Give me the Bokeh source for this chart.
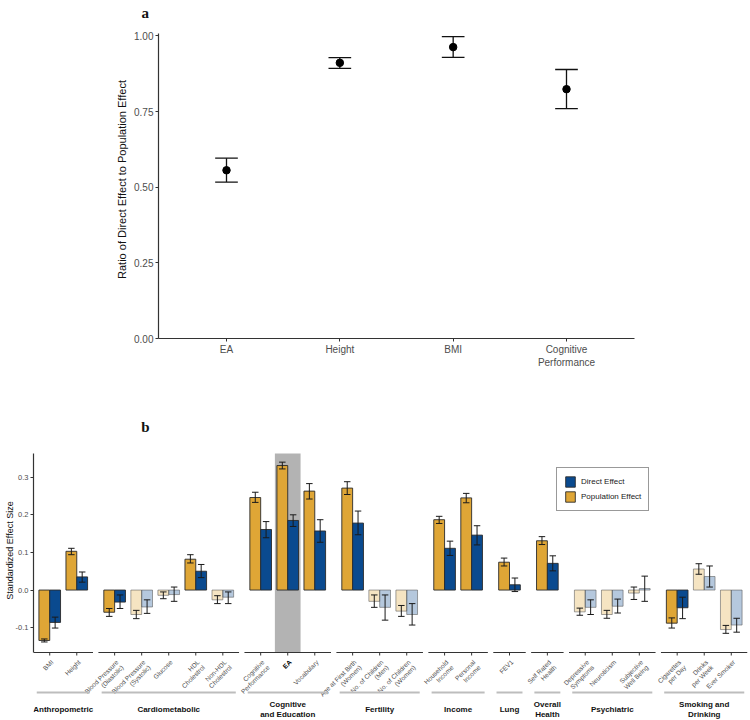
import math
import numpy as np
from bokeh.plotting import figure
from bokeh.models import (ColumnDataSource, FixedTicker, NumeralTickFormatter, Range1d,
                          Legend, LegendItem)
from bokeh.embed import file_html
from bokeh.resources import INLINE
from bokeh.core.properties import value

# ---------------- Panel a data ----------------
a_traits = ["EA", "Height", "BMI", "Cognitive\nPerformance"]
a_ratio = [0.556, 0.911, 0.963, 0.824]
a_lo = [0.517, 0.893, 0.929, 0.760]
a_hi = [0.596, 0.928, 0.998, 0.889]
a_yticks = [0.0, 0.25, 0.50, 0.75, 1.00]
a_ylim = (0, 1.008)

# ---------------- Panel b data ----------------
groups = ["Anthropometric", "Cardiometabolic", "Cognitive\nand Education", "Fertility",
          "Income", "Lung", "Overall\nHealth", "Psychiatric", "Smoking and\nDrinking"]
group_sizes = [2, 5, 3, 3, 2, 1, 1, 3, 3]
phenos = ["BMI", "Height",
          "Blood Pressure\n(Diastolic)", "Blood Pressure\n(Systolic)", "Glucose", "HDL\nCholestrol", "Non-HDL\nCholestrol",
          "Cognitive\nPerformance", "EA", "Vocabulary",
          "Age at First Birth\n(Women)", "No. of Children\n(Men)", "No. of Children\n(Women)",
          "Household\nIncome", "Personal\nIncome",
          "FEV1",
          "Self Rated\nHealth",
          "Depressive\nSymptoms", "Neuroticism", "Subjective\nWell Being",
          "Cigarettes\nper Day", "Drinks\nper Week", "Ever Smoker"]
pop_eff = [-0.134, 0.103, -0.059, -0.065, -0.014, 0.082, -0.026, 0.246, 0.331, 0.263,
           0.271, -0.030, -0.056, 0.187, 0.245, 0.074, 0.131, -0.058, -0.065, -0.008,
           -0.088, 0.056, -0.105]
pop_lo = [-0.138, 0.094, -0.070, -0.076, -0.023, 0.072, -0.036, 0.233, 0.322, 0.242,
          0.254, -0.046, -0.070, 0.177, 0.232, 0.064, 0.121, -0.067, -0.075, -0.025,
          -0.101, 0.042, -0.115]
pop_hi = [-0.130, 0.111, -0.049, -0.054, -0.005, 0.094, -0.015, 0.260, 0.340, 0.283,
          0.288, -0.013, -0.041, 0.196, 0.257, 0.085, 0.142, -0.048, -0.054, 0.008,
          -0.074, 0.070, -0.094]
dir_eff = [-0.086, 0.035, -0.032, -0.045, -0.012, 0.050, -0.019, 0.161, 0.185, 0.157,
           0.178, -0.046, -0.065, 0.111, 0.146, 0.014, 0.071, -0.046, -0.043, 0.004,
           -0.047, 0.036, -0.093]
dir_lo = [-0.101, 0.021, -0.049, -0.062, -0.030, 0.033, -0.036, 0.139, 0.169, 0.127,
          0.147, -0.080, -0.093, 0.092, 0.120, -0.004, 0.051, -0.065, -0.061, -0.030,
          -0.076, 0.008, -0.112]
dir_hi = [-0.072, 0.048, -0.013, -0.026, 0.008, 0.068, -0.005, 0.182, 0.200, 0.187,
          0.210, -0.013, -0.036, 0.130, 0.171, 0.032, 0.091, -0.026, -0.024, 0.037,
          -0.019, 0.064, -0.075]
significant = [1, 1, 1, 0, 0, 1, 0, 1, 1, 1, 1, 0, 0, 1, 1, 1, 1, 0, 0, 0, 1, 0, 0]
highlight = "EA"
b_yticks = [-0.1, 0.0, 0.1, 0.2, 0.3]
b_ylim = (-0.166, 0.363)

GOLD = "#DFA636"
BLUE = "#0A4A8F"
AXIS = "#333333"
TICKTXT = "#4D4D4D"
SANS = "Liberation Sans"
SERIF = "Liberation Serif"

# ================= Panel a =================
A_W, A_H, A_L, A_R, A_B = 750, 380, 158, 116, 42
A_AXTOP = 33        # pixel row of the top of the y axis
A_T = 20            # frame starts a little above the axis top; the tag sits in the margin
a_xr = (-0.6, 3.6)
a_ypu = (A_H - A_AXTOP - A_B) / (a_ylim[1] - a_ylim[0])
a_ytop = a_ylim[1] + (A_AXTOP - A_T) / a_ypu
pa = figure(width=A_W, height=A_H, output_backend="svg", toolbar_location=None,
            x_range=Range1d(*a_xr), y_range=Range1d(a_ylim[0], a_ytop),
            min_border_left=A_L, min_border_right=A_R, min_border_top=A_T, min_border_bottom=A_B)
pa.title.text = "a"
pa.title.text_font = SERIF
pa.title.text_font_size = "15px"
pa.title.text_font_style = "bold"
pa.title.text_color = "#111111"
pa.title.align = "left"
pa.title.offset = -17
pa.title.standoff = 0
pa.outline_line_color = None
pa.grid.visible = False

ax = np.arange(len(a_traits))
pa.segment(x0=ax, y0=a_lo, x1=ax, y1=a_hi, line_color="#111111", line_width=1.3)
pa.segment(x0=ax - 0.1, y0=a_lo, x1=ax + 0.1, y1=a_lo, line_color="#111111", line_width=1.3)
pa.segment(x0=ax - 0.1, y0=a_hi, x1=ax + 0.1, y1=a_hi, line_color="#111111", line_width=1.3)
pa.scatter(x=ax, y=a_ratio, size=7.5, color="black")

pa.xaxis.ticker = FixedTicker(ticks=list(ax))
pa.xaxis.major_label_overrides = {int(i): t for i, t in zip(ax, a_traits)}
pa.yaxis.ticker = FixedTicker(ticks=a_yticks)
pa.yaxis.bounds = a_ylim
pa.yaxis.formatter = NumeralTickFormatter(format="0.00")
pa.yaxis.axis_label = "Ratio of Direct Effect to Population Effect"
for axis in (pa.xaxis[0], pa.yaxis[0]):
    axis.axis_line_color = AXIS
    axis.axis_line_width = 1.2
    axis.major_tick_line_color = AXIS
    axis.major_tick_out = 3
    axis.major_tick_in = 0
    axis.minor_tick_line_color = None
    axis.major_label_text_font = SANS
    axis.major_label_text_font_size = "10px"
    axis.major_label_text_color = TICKTXT
    axis.major_label_standoff = 2
pa.yaxis.axis_label_text_font = SANS
pa.yaxis.axis_label_text_font_size = "11px"
pa.yaxis.axis_label_text_font_style = "normal"
pa.yaxis.axis_label_text_color = "#111111"
pa.yaxis.axis_label_standoff = 3

# ================= Panel b =================
GAP = 0.2
xs = []
facets = []
cursor = 0.0
for n in group_sizes:
    start = cursor
    for i in range(n):
        xs.append(start + 0.6 + i)
    end = start + 1.2 + (n - 1)
    facets.append((start, end))
    cursor = end + GAP
xmax = cursor - GAP
xs = np.array(xs)

B_W, B_H, B_TOP, B_L, B_R = 750, 340, 73, 33, 3
axis_px = 199.0
ppu = axis_px / (b_ylim[1] - b_ylim[0])
ytop_frame = b_ylim[1] + B_TOP / ppu
ybot_frame = ytop_frame - B_H / ppu
ybot = b_ylim[0]
b_xpu = (B_W - B_L - B_R) / xmax

pb = figure(width=B_W, height=B_H, output_backend="svg", toolbar_location=None,
            x_range=Range1d(0, xmax), y_range=Range1d(ybot_frame, ytop_frame),
            x_axis_location=None,
            min_border_left=B_L, min_border_right=B_R, min_border_top=0, min_border_bottom=0)
pb.outline_line_color = None
pb.grid.visible = False

pb.text(x=[112 / b_xpu], y=[b_ylim[1] + 27 / ppu], text=["b"],
        text_font=value(SERIF), text_font_size="15px", text_font_style="bold",
        text_align="center", text_baseline="middle", text_color="#111111")

# highlighted band
hi_idx = phenos.index(highlight)
pb.vbar(x=[xs[hi_idx]], width=0.95, bottom=ybot, top=b_ylim[1], fill_color="#B3B3B3",
        line_color=None)

def sub(vals, flag):
    return [v for v, s in zip(vals, significant) if s == flag]

legend_refs = {}
for name, off, col, eff in (("pop", -0.2, GOLD, pop_eff), ("dir", 0.2, BLUE, dir_eff)):
    for flag in (1, 0):
        src = ColumnDataSource(dict(x=sub(list(xs + off), flag), top=sub(eff, flag)))
        r = pb.vbar(x="x", top="top", bottom=0, width=0.4, source=src, fill_color=col,
                    fill_alpha=1.0 if flag else 0.3,
                    line_color="#2b2b2b" if flag else "#555555",
                    line_alpha=0.9 if flag else 0.55, line_width=1)
        if flag:
            legend_refs[name] = r

cap = 0.12
for off, lo, hi in ((-0.2, pop_lo, pop_hi), (0.2, dir_lo, dir_hi)):
    xe = xs + off
    pb.segment(x0=xe, y0=lo, x1=xe, y1=hi, line_color="#1a1a1a", line_width=1)
    pb.segment(x0=xe - cap, y0=lo, x1=xe + cap, y1=lo, line_color="#1a1a1a", line_width=1)
    pb.segment(x0=xe - cap, y0=hi, x1=xe + cap, y1=hi, line_color="#1a1a1a", line_width=1)

# facet axis lines and ticks
fs = np.array([f[0] for f in facets])
fe = np.array([f[1] for f in facets])
pb.segment(x0=fs, y0=[ybot] * len(fs), x1=fe, y1=[ybot] * len(fs), line_color=AXIS, line_width=1.2)
pb.segment(x0=xs, y0=[ybot] * len(xs), x1=xs, y1=[ybot - 3 / ppu] * len(xs), line_color=AXIS, line_width=1)

# tick labels (rotated)
lab_src = ColumnDataSource(dict(
    x=list(xs), y=[ybot - 6 / ppu] * len(xs), text=phenos,
    style=["bold" if p == highlight else "normal" for p in phenos],
    color=["#000000" if p == highlight else TICKTXT for p in phenos]))
pb.text(x="x", y="y", text="text", source=lab_src, angle=math.pi / 4,
        text_align="right", text_baseline="top", text_font=value(SANS),
        text_font_size="6.5px", text_font_style="style", text_color="color",
        text_line_height=1.05)

# group lines and labels
inset = 0.12
pb.segment(x0=fs + inset, y0=[ybot - 40 / ppu] * len(fs), x1=fe - inset,
           y1=[ybot - 40 / ppu] * len(fs), line_color="#BDBDBD", line_width=2)
pb.text(x=(fs + fe) / 2, y=[ybot - 57 / ppu] * len(fs), text=groups,
        text_align="center", text_baseline="middle", text_font=value(SANS),
        text_font_size="8px", text_font_style="bold", text_color="#111111",
        text_line_height=1.1)

# y axis
yax = pb.yaxis[0]
yax.bounds = b_ylim
yax.ticker = FixedTicker(ticks=b_yticks)
yax.formatter = NumeralTickFormatter(format="0.0")
yax.axis_label = "Standardized Effect Size"
yax.axis_line_color = AXIS
yax.axis_line_width = 1.2
yax.major_tick_line_color = AXIS
yax.major_tick_out = 3
yax.major_tick_in = 0
yax.minor_tick_line_color = None
yax.major_label_text_font = SANS
yax.major_label_text_font_size = "7.5px"
yax.major_label_text_color = TICKTXT
yax.major_label_standoff = 2
yax.axis_label_text_font = SANS
yax.axis_label_text_font_size = "9px"
yax.axis_label_text_font_style = "normal"
yax.axis_label_text_color = "#111111"
yax.axis_label_standoff = -2

legend = Legend(items=[LegendItem(label="Direct Effect", renderers=[legend_refs["dir"]]),
                       LegendItem(label="Population Effect", renderers=[legend_refs["pop"]])],
                location=(523, 209), label_text_font=SANS, label_text_font_size="8px",
                label_text_color="#222222", glyph_width=12, glyph_height=13, spacing=2,
                padding=7, margin=0, label_standoff=5, border_line_color="#333333",
                border_line_width=1, background_fill_alpha=1.0, label_height=13)
pb.add_layout(legend)

open("out.html", "w").write(file_html([pa, pb], INLINE))
